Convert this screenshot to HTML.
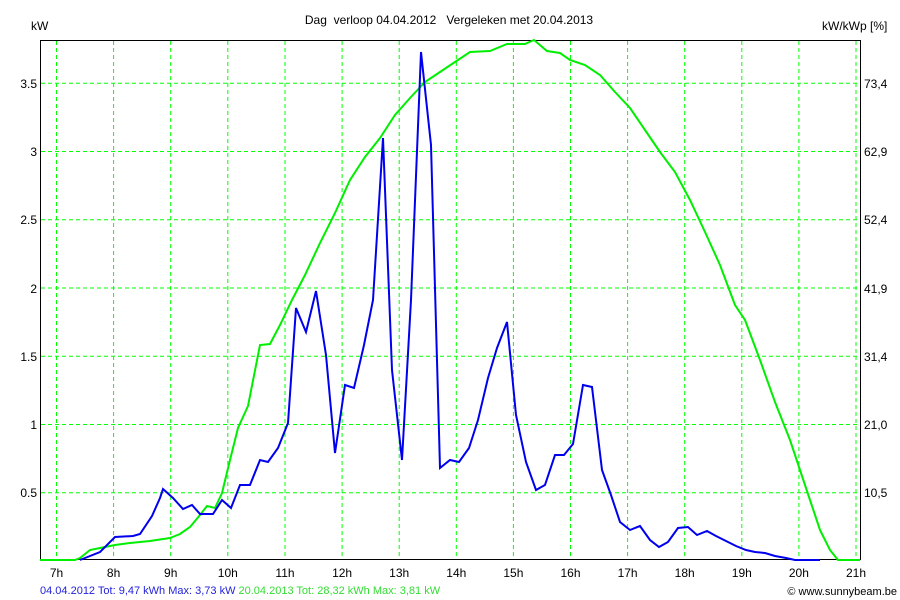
<!DOCTYPE html>
<html><head><meta charset="utf-8"><style>
body{margin:0;background:#fff;}
svg{display:block;font-family:"Liberation Sans",sans-serif;}
</style></head><body>
<svg width="900" height="600" viewBox="0 0 900 600" xmlns="http://www.w3.org/2000/svg">
<rect width="900" height="600" fill="#fff"/>
<text x="449" y="24" font-size="12" text-anchor="middle" fill="#000">Dag&#160; verloop 04.04.2012&#160;&#160; Vergeleken met 20.04.2013</text>
<text x="31" y="30" font-size="12" fill="#000">kW</text>
<text x="822" y="30" font-size="12" fill="#000">kW/kWp [%]</text>
<g stroke="#00ff00" stroke-width="1" stroke-dasharray="4,3">
<line x1="56.5" y1="41" x2="56.5" y2="560"/>
<line x1="113.6" y1="41" x2="113.6" y2="560"/>
<line x1="170.7" y1="41" x2="170.7" y2="560"/>
<line x1="227.8" y1="41" x2="227.8" y2="560"/>
<line x1="285" y1="41" x2="285" y2="560"/>
<line x1="342.1" y1="41" x2="342.1" y2="560"/>
<line x1="399.2" y1="41" x2="399.2" y2="560"/>
<line x1="456.3" y1="41" x2="456.3" y2="560"/>
<line x1="513.4" y1="41" x2="513.4" y2="560"/>
<line x1="570.5" y1="41" x2="570.5" y2="560"/>
<line x1="627.6" y1="41" x2="627.6" y2="560"/>
<line x1="684.7" y1="41" x2="684.7" y2="560"/>
<line x1="741.8" y1="41" x2="741.8" y2="560"/>
<line x1="798.9" y1="41" x2="798.9" y2="560"/>
<line x1="856" y1="41" x2="856" y2="560"/>
<line x1="41" y1="83.3" x2="860" y2="83.3"/>
<line x1="41" y1="151.5" x2="860" y2="151.5"/>
<line x1="41" y1="219.8" x2="860" y2="219.8"/>
<line x1="41" y1="288" x2="860" y2="288"/>
<line x1="41" y1="356.3" x2="860" y2="356.3"/>
<line x1="41" y1="424.5" x2="860" y2="424.5"/>
<line x1="41" y1="492.7" x2="860" y2="492.7"/>
</g>
<path d="M40.5 40.5 H860.5 V559.5 H40.5 Z" fill="none" stroke="#000" stroke-width="1"/>
<g font-size="12" fill="#000" text-anchor="end">
<text x="37" y="88">3.5</text><text x="37" y="156">3</text><text x="37" y="224">2.5</text>
<text x="37" y="293">2</text><text x="37" y="361">1.5</text><text x="37" y="429">1</text><text x="37" y="497">0.5</text>
</g>
<g font-size="12" fill="#000">
<text x="864" y="88">73,4</text><text x="864" y="156">62,9</text><text x="864" y="224">52,4</text>
<text x="864" y="293">41,9</text><text x="864" y="361">31,4</text><text x="864" y="429">21,0</text><text x="864" y="497">10,5</text>
</g>
<g font-size="12" fill="#000" text-anchor="middle">
<text x="56.5" y="577">7h</text><text x="113.6" y="577">8h</text><text x="170.7" y="577">9h</text>
<text x="227.8" y="577">10h</text><text x="285" y="577">11h</text><text x="342.1" y="577">12h</text>
<text x="399.2" y="577">13h</text><text x="456.3" y="577">14h</text><text x="513.4" y="577">15h</text>
<text x="570.5" y="577">16h</text><text x="627.6" y="577">17h</text><text x="684.7" y="577">18h</text>
<text x="741.8" y="577">19h</text><text x="798.9" y="577">20h</text><text x="856" y="577">21h</text>
</g>
<polyline fill="none" stroke="#00ee00" stroke-width="2" points="40,560 75,560 80,558 90,550 100,548 115,545 130,543 150,541 170,538 180,534 190,527 200,515 207,506 215,508 222,493 230,460 238,428 248,406 260,345 270,344 280,325 292,300 305,275 320,243 335,213 350,180 365,157 380,138 395,115 410,98 425,82 440,72 455,62 470,52 490,51 507,44 525,44 534,40 547,51 560,53 570,60 585,65 600,75 615,92 630,108 645,130 660,152 675,172 690,200 705,232 720,265 735,305 745,320 760,360 775,402 790,440 800,470 810,500 820,530 830,550 838,560 860,560"/>
<polyline fill="none" stroke="#0000ee" stroke-width="2" points="80,560 85,558 100,552 115,537 133,536 140,534 152,516 160,498 163,489 173,498 183,509 192,505 200,514 213,514 222,500 231,508 240,485 250,485 260,460 268,462 278,448 288,423 296,308 306,332 316,291 326,355 335,453 345,385 354,388 364,345 373,300 383,138 392,370 402,460 411,300 421,52 431,145 440,468 450,460 459,462 469,448 478,420 488,378 497,348 507,322 516,415 526,462 536,490 545,485 555,455 564,455 573,444 583,385 592,387 602,470 611,495 620,522 630,530 640,526 650,540 659,547 668,542 678,528 688,527 697,535 707,531 716,536 726,541 736,546 746,550 755,552 765,553 775,556 786,558 795,560 820,560"/>
<text x="40" y="594" font-size="11"><tspan fill="#2222dd">04.04.2012 Tot: 9,47 kWh Max: 3,73 kW </tspan><tspan fill="#33dd33">20.04.2013 Tot: 28,32 kWh Max: 3,81 kW</tspan></text>
<text x="897" y="595" font-size="11" fill="#000" text-anchor="end">© www.sunnybeam.be</text>
</svg>
</body></html>
